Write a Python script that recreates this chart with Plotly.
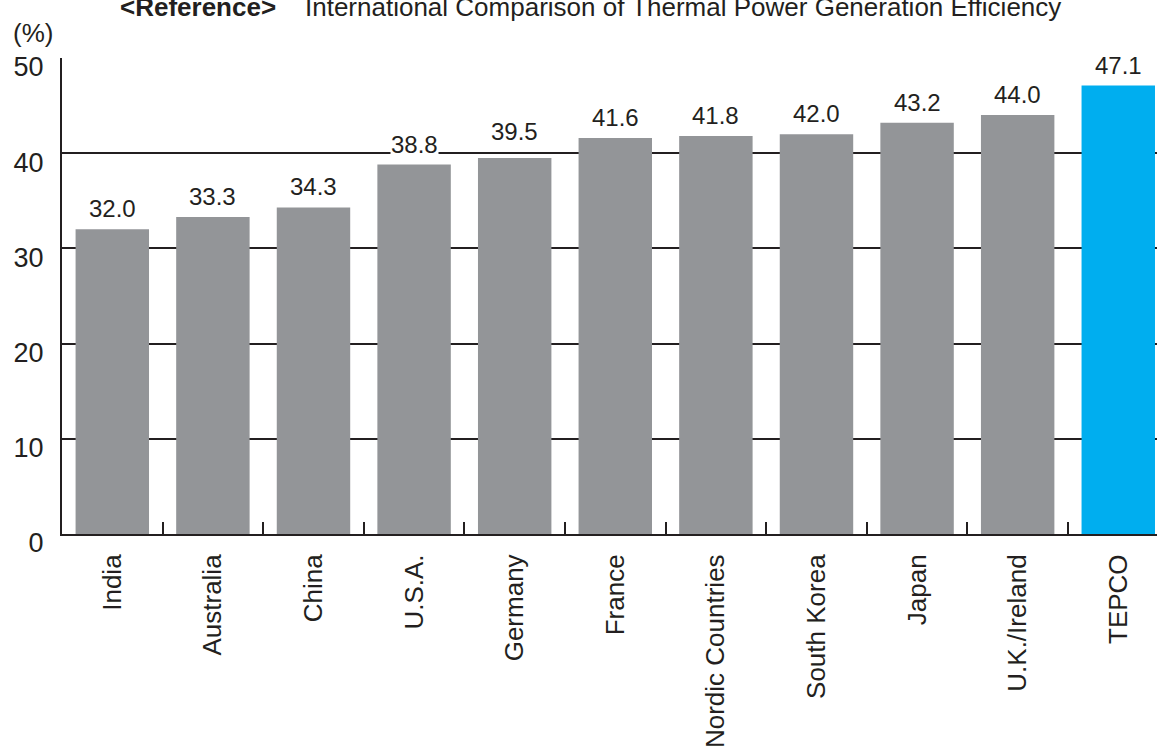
import plotly.graph_objects as go

# Thermal power generation efficiency by country / utility (%)
countries = ["India", "Australia", "China", "U.S.A.", "Germany", "France",
             "Nordic Countries", "South Korea", "Japan", "U.K./Ireland", "TEPCO"]
efficiency = [32.0, 33.3, 34.3, 38.8, 39.5, 41.6, 41.8, 42.0, 43.2, 44.0, 47.1]
y_ticks = [0, 10, 20, 30, 40, 50]

GRAY = "#939598"
CYAN = "#00AEEF"
INK = "#231F20"
FONT = "Liberation Sans, Arial, Helvetica, sans-serif"

bar_colors = [CYAN if c == "TEPCO" else GRAY for c in countries]

fig = go.Figure(
    go.Bar(
        x=countries,
        y=efficiency,
        width=0.73,
        marker=dict(color=bar_colors, line=dict(width=0)),
        hoverinfo="x+y",
    )
)

# value labels above each bar (white backing breaks the gridline behind them)
label_lift = {"Germany": 6}
for c, v in zip(countries, efficiency):
    fig.add_annotation(
        x=c, y=v, xref="x", yref="y",
        text=f"{v:.1f}",
        showarrow=False,
        yanchor="bottom",
        yshift=6 + label_lift.get(c, 0),
        bgcolor="white",
        borderpad=0,
        font=dict(size=24, color=INK, family=FONT),
    )

# heading and unit
nb = "\u00a0"
fig.add_annotation(
    xref="paper", yref="paper", x=0.0511, y=1, xanchor="left", yanchor="bottom",
    yshift=34, showarrow=False,
    text="<b>&lt;Reference&gt;</b>" + nb * 4 + "International Comparison of Thermal Power Generation Efficiency",
    font=dict(size=26, color=INK, family=FONT),
)
fig.add_annotation(
    xref="paper", yref="paper", x=0, y=1, xanchor="right", yanchor="bottom",
    xshift=-7, yshift=8, showarrow=False, text="(%)",
    font=dict(size=26, color=INK, family=FONT),
)

fig.update_layout(
    width=1158, height=751,
    margin=dict(l=62, r=1, t=58, b=217, pad=0),
    paper_bgcolor="white", plot_bgcolor="white",
    font=dict(family=FONT, color=INK),
    showlegend=False,
    bargap=0.27,
)
fig.update_xaxes(
    type="category",
    range=[-0.5, 10.385],
    tickangle=-90,
    tickson="boundaries",
    ticks="inside", ticklen=12, tickwidth=1.5, tickcolor=INK,
    showline=True, linecolor=INK, linewidth=2,
    showgrid=False,
    ticklabelstandoff=8,
    tickfont=dict(size=26, color=INK, family=FONT),
)
fig.update_yaxes(
    range=[0, 50],
    tickvals=y_ticks,
    showgrid=True, gridcolor=INK, gridwidth=1.5,
    showline=True, linecolor=INK, linewidth=2,
    zeroline=False,
    ticks="",
    ticklabelshift=9,
    ticklabelstandoff=11,
    tickfont=dict(size=27, color=INK, family=FONT),
)

fig.write_html("out.html")
